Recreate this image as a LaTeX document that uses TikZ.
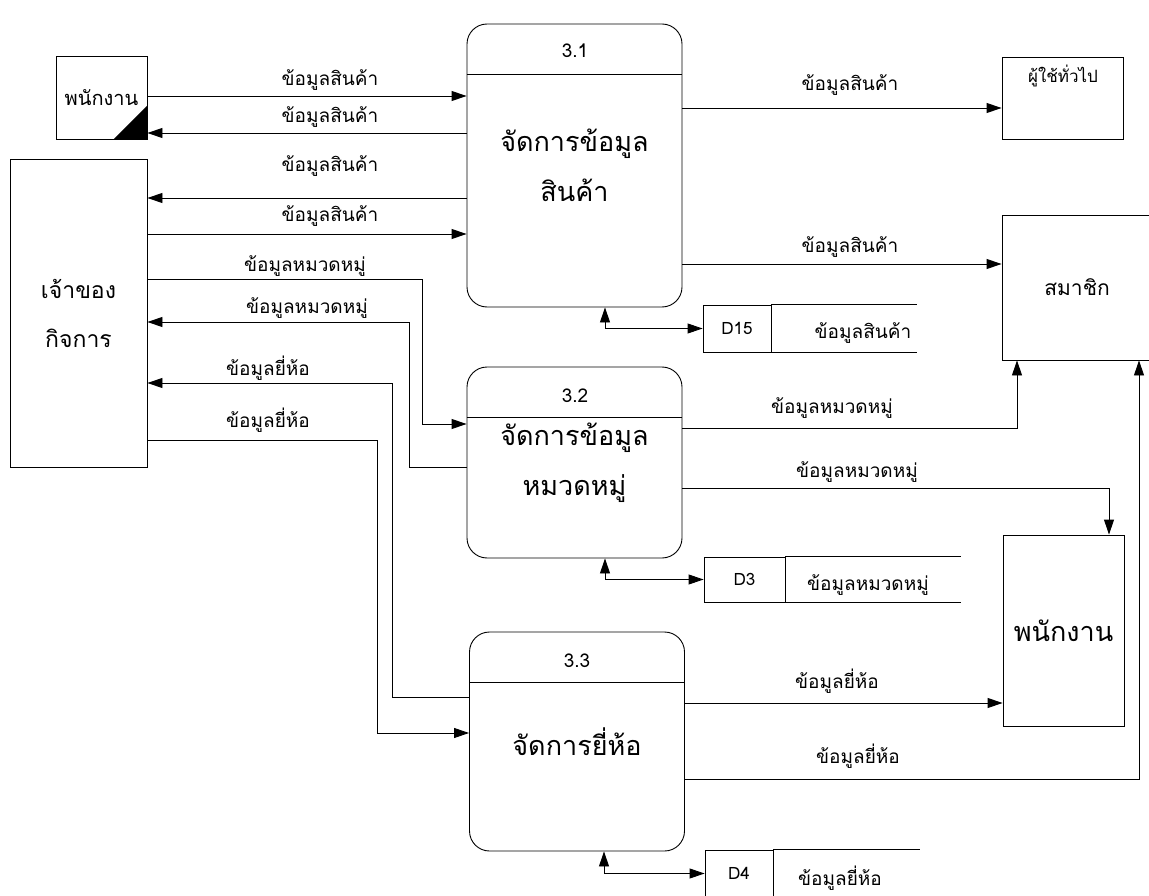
\documentclass[tikz,border=0pt]{standalone}
\usepackage{fontspec}
\setmainfont[Script=Thai]{Loma}
\usetikzlibrary{arrows.meta}

\tikzset{
  entity/.style={draw, line width=0.9pt, inner sep=0pt, align=center, font=\fontsize{21}{49}\selectfont},
  process/.style={draw, line width=0.9pt, rounded corners=20pt, inner sep=0pt, align=center, font=\fontsize{27}{50}\selectfont},
  store/.style={draw, line width=0.9pt, inner sep=0pt, font=\fontsize{17}{20}\selectfont},
  flow/.style={line width=0.9pt, -{Triangle[length=15pt,width=10pt]}},
  dflow/.style={line width=0.9pt, {Triangle[length=15pt,width=10pt]}-{Triangle[length=15pt,width=10pt]}},
  lbl/.style={anchor=base, inner sep=0pt, font=\fontsize{19}{20}\selectfont},
  num/.style={anchor=base, inner sep=0pt, font=\fontsize{19}{20}\selectfont}
}

\begin{document}
\begin{tikzpicture}[x=1pt, y=-1pt]
\useasboundingbox (0,0) rectangle (1149,896);

% external entities
\node [entity, minimum width=91, minimum height=83, font=\fontsize{20}{20}\selectfont] (emp1) at (101.5,97.5) {พนักงาน};
\fill (emp1.south east) -- ++(-34,0) -- ++(34,-34) -- cycle;
\node [entity, minimum width=137, minimum height=308, font=\fontsize{23}{49}\selectfont] (owner) at (78.5,313) {เจ้าของ\\กิจการ};
\node [entity, minimum width=121, minimum height=82] (user) at (1062.5,98) {};
\node [lbl, font=\fontsize{17}{20}\selectfont] (usertxt) at (1063,83) {ผู้ใช้ทั่วไป};
\node [entity, minimum width=150, minimum height=145] (member) at (1077,287.5) {สมาชิก};
\node [entity, minimum width=121, minimum height=191, font=\fontsize{27}{27}\selectfont] (emp2) at (1063.5,630.5) {พนักงาน};

% processes
\node [process, minimum width=215, minimum height=283] (p1) at (574.5,165.5) {จัดการข้อมูล\\สินค้า};
\draw [line width=0.9pt] (p1.west |- 0,74) -- (p1.east |- 0,74);
\node [num] (n1) at (575,58) {3.1};
\node [process, minimum width=215, minimum height=191] (p2) at (574.5,462.5) {จัดการข้อมูล\\หมวดหมู่};
\draw [line width=0.9pt] (p2.west |- 0,417) -- (p2.east |- 0,417);
\node [num] (n2) at (575,402) {3.2};
\node [process, minimum width=215, minimum height=219] (p3) at (577,741.5) {จัดการยี่ห้อ};
\draw [line width=0.9pt] (p3.west |- 0,682) -- (p3.east |- 0,682);
\node [num] (n3) at (577,667) {3.3};

% data stores
\node [store, minimum width=68, minimum height=47] (d15) at (737,328.5) {D15};
\draw [line width=0.9pt] (d15.north east) -- ++(146,0) (d15.south east) -- ++(146,0);
\node [lbl] (d15txt) at (863,338) {ข้อมูลสินค้า};
\node [store, minimum width=81, minimum height=45] (d3) at (744.5,579.5) {D3};
\draw [line width=0.9pt] (d3.north east) -- ++(176,0) (d3.south east) -- ++(176,0);
\node [lbl] (d3txt) at (868,590) {ข้อมูลหมวดหมู่};
\node [store, minimum width=68, minimum height=47] (d4) at (739,873.5) {D4};
\draw [line width=0.9pt] (d4.north east) -- ++(147,0);
\node [lbl] (d4txt) at (840,885) {ข้อมูลยี่ห้อ};

% flows of 3.1
\draw [flow] (emp1.east |- 0,96) -- (p1.west |- 0,96);
\node [lbl] at (330,86) {ข้อมูลสินค้า};
\draw [flow] (p1.west |- 0,133) -- (emp1.east |- 0,133);
\node [lbl] at (330,123) {ข้อมูลสินค้า};
\draw [flow] (p1.west |- 0,198) -- (owner.east |- 0,198);
\node [lbl] at (330,172) {ข้อมูลสินค้า};
\draw [flow] (owner.east |- 0,234) -- (p1.west |- 0,234);
\node [lbl] at (330,222) {ข้อมูลสินค้า};
\draw [flow] (p1.east |- 0,108) -- (user.west |- 0,108);
\node [lbl] at (850,91) {ข้อมูลสินค้า};
\draw [flow] (p1.east |- 0,264) -- (member.west |- 0,264);
\node [lbl] at (850,253) {ข้อมูลสินค้า};
\draw [dflow] (p1.south -| 605,0) |- (d15.west);

% flows of 3.2
\draw [flow] (owner.east |- 0,279) -| (422,424) -- (p2.west |- 0,424);
\node [lbl] at (305,272) {ข้อมูลหมวดหมู่};
\draw [flow] (p2.west |- 0,467) -| (409,322) -- (owner.east |- 0,322);
\node [lbl] at (307,313) {ข้อมูลหมวดหมู่};
\draw [flow] (p2.east |- 0,428) -| (member.south -| 1017,0);
\node [lbl] at (832,413) {ข้อมูลหมวดหมู่};
\draw [flow] (p2.east |- 0,488) -| (emp2.north -| 1109,0);
\node [lbl] at (857,477) {ข้อมูลหมวดหมู่};
\draw [dflow] (p2.south -| 605,0) |- (d3.west);

% flows of 3.3
\draw [flow] (p3.west |- 0,697) -| (392,383) -- (owner.east |- 0,383);
\node [lbl] at (268,375) {ข้อมูลยี่ห้อ};
\draw [flow] (owner.east |- 0,440) -| (377,733) -- (p3.west |- 0,733);
\node [lbl] at (268,427) {ข้อมูลยี่ห้อ};
\draw [flow] (p3.east |- 0,703) -- (emp2.west |- 0,703);
\node [lbl] at (837,688) {ข้อมูลยี่ห้อ};
\draw [flow] (p3.east |- 0,779) -| (member.south -| 1139,0);
\node [lbl] at (858,763) {ข้อมูลยี่ห้อ};
\draw [dflow] (p3.south -| 604,0) |- (d4.west);
\end{tikzpicture}
\end{document}
